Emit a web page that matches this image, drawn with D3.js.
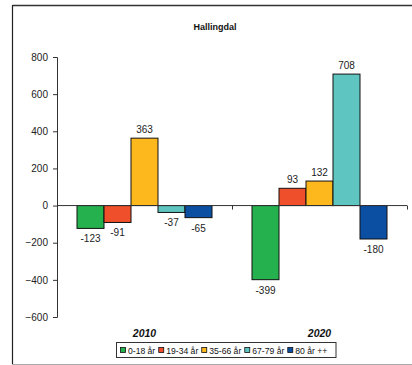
<!DOCTYPE html>
<html><head><meta charset="utf-8">
<script src="https://cdn.jsdelivr.net/npm/d3@7"></script>
<style>body{margin:0;background:#fff}svg{display:block;font-family:"Liberation Sans",Arial,sans-serif}</style>
</head><body><svg id="c" width="412" height="365"></svg>
<script>
const title = "Hallingdal";
const categories = ["2010", "2020"];
const seriesNames = ["0-18 år", "19-34 år", "35-66 år", "67-79 år", "80 år ++"];
const seriesColors = ["#25b14e", "#f04f2b", "#fdb81e", "#5fc5c0", "#0b4fa2"];
const values2010 = [-123, -91, 363, -37, -65];
const values2020 = [-399, 93, 132, 708, -180];
const yTicks = [800, 600, 400, 200, 0, -200, -400, -600];

const data = [values2010, values2020];
const svg = d3.select("#c");

// frame
svg.append("line").attr("x1",12.5).attr("x2",412).attr("y1",5.5).attr("y2",5.5).attr("stroke","#333").attr("stroke-width",1.5);
svg.append("line").attr("x1",12.5).attr("x2",12.5).attr("y1",5).attr("y2",364).attr("stroke","#222").attr("stroke-width",1.2);
svg.append("line").attr("x1",12).attr("x2",412).attr("y1",364.5).attr("y2",364.5).attr("stroke","#aaa").attr("stroke-width",1);

svg.append("text").attr("x",215).attr("y",30).attr("text-anchor","middle")
  .attr("font-size",9).attr("font-weight","bold").attr("fill","#111").text(title);

const y = d3.scaleLinear().domain([-600, 800]).range([317, 57]);
const x0 = d3.scaleBand().domain(categories).range([57, 407]).paddingInner(0.2286).paddingOuter(0.1143);
const x1 = d3.scaleBand().domain(d3.range(seriesNames.length)).range([0, x0.bandwidth()]);

// y axis
const yAxis = svg.append("g").attr("transform","translate(57,0)")
  .call(d3.axisLeft(y).tickValues(yTicks).tickSize(4).tickPadding(5).tickFormat(d3.format("d")));
yAxis.select(".domain").attr("stroke","#333").attr("d","M-4,57.5H0.5V317.5H-4");
yAxis.selectAll(".tick line").attr("stroke","#333");
yAxis.selectAll("text").attr("font-size",10).attr("fill","#222").attr("font-family","Liberation Sans, Arial, sans-serif");

const groups = svg.selectAll("g.grp").data(data).join("g")
  .attr("transform",(d,i)=>`translate(${x0(categories[i])},0)`);
groups.selectAll("rect").data(d=>d.map((v,j)=>({v,j}))).join("rect")
  .attr("x",d=>x1(d.j)).attr("width",x1.bandwidth())
  .attr("y",d=>y(Math.max(0,d.v))).attr("height",d=>Math.abs(y(d.v)-y(0)))
  .attr("fill",d=>seriesColors[d.j]).attr("stroke","#111").attr("stroke-width",1);
groups.selectAll("text").data(d=>d.map((v,j)=>({v,j}))).join("text")
  .attr("x",d=>x1(d.j)+x1.bandwidth()/2)
  .attr("y",d=>d.v>=0 ? y(d.v)-5 : y(d.v)+14)
  .attr("text-anchor","middle").attr("font-size",10).attr("fill","#222")
  .text(d=>d.v);

// x axis line at zero
const z = y(0);
svg.append("line").attr("x1",57).attr("x2",407).attr("y1",z).attr("y2",z).attr("stroke","#333");
[57,232,407].forEach(t=>{
  svg.append("line").attr("x1",t+0.5).attr("x2",t+0.5).attr("y1",z).attr("y2",z+4).attr("stroke","#333");
});

// category labels
categories.forEach(c=>{
  svg.append("text").attr("x",x0(c)+x0.bandwidth()/2).attr("y",337).attr("text-anchor","middle")
    .attr("font-size",10.5).attr("font-weight","bold").attr("font-style","italic").attr("fill","#111").text(c);
});

// legend
const lg = svg.append("g");
lg.append("rect").attr("x",116.5).attr("y",342.5).attr("width",219.5).attr("height",15).attr("fill","#fff").attr("stroke","#333");
let lx = 120;
seriesNames.forEach((n,i)=>{
  lg.append("rect").attr("x",lx+0.5).attr("y",347.5).attr("width",5).attr("height",5).attr("fill",seriesColors[i]).attr("stroke","#111").attr("stroke-width",0.8);
  const t = lg.append("text").attr("x",lx+8).attr("y",353.5).attr("font-size",8.6).attr("fill","#111").text(n);
  lx += 8 + t.node().getComputedTextLength() + 3;
});
</script></body></html>
